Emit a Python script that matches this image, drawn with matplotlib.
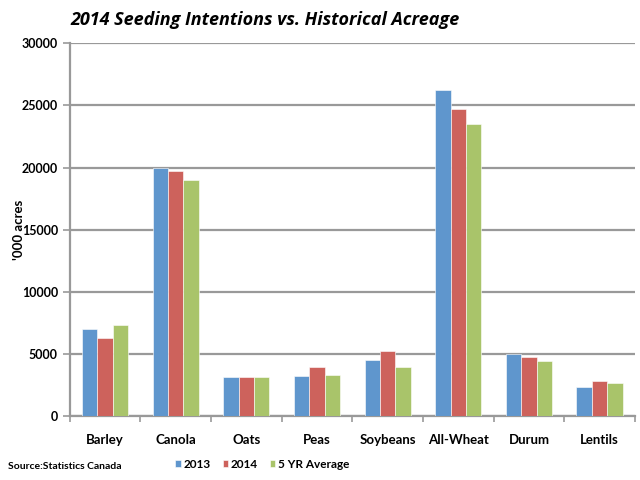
import matplotlib.pyplot as plt
import numpy as np

# datos ('000 acres)
cultivos = ["Barley", "Canola", "Oats", "Peas", "Soybeans", "All-Wheat", "Durum", "Lentils"]
v2013 = [7020, 20000, 3110, 3220, 4480, 26200, 4960, 2330]
v2014 = [6250, 19750, 3110, 3920, 5230, 24730, 4770, 2820]
v5yr = [7300, 18960, 3150, 3320, 3920, 23530, 4420, 2630]
series = ["2013", "2014", "5 YR Average"]
colores = ["#5F96CD", "#CD625C", "#A9C46A"]

plt.rcParams['font.family'] = ['Lato', 'DejaVu Sans']

fig = plt.figure(figsize=(6.4, 4.8), dpi=100)
ax = fig.add_axes([0.109, 0.133, 0.883, 0.777])

x = np.arange(len(cultivos))
ancho = 0.218
for i, (vals, nombre, c) in enumerate(zip([v2013, v2014, v5yr], series, colores)):
    ax.bar(x + (i - 1) * ancho, vals, width=ancho, color=c, label=nombre,
           edgecolor='white', linewidth=0.4, zorder=3)

ax.set_xlim(-0.5, len(cultivos) - 0.5)
ax.set_ylim(0, 30000)
ax.set_yticks(range(0, 30001, 5000))
ax.yaxis.grid(True, color='#999999', linewidth=1.6, zorder=0)

ax.set_xticks(x)
ax.set_xticklabels(cultivos, fontsize=9.5, fontweight='bold')
ax.set_xticks(np.arange(-0.5, len(cultivos)), minor=True)
ax.tick_params(axis='x', which='major', length=0, pad=13)
ax.tick_params(axis='x', which='minor', length=4, color='#999999', width=1.2)
ax.tick_params(axis='y', length=5, color='#999999', width=1.2, labelsize=9)
for lbl in ax.get_yticklabels():
    lbl.set_fontweight('bold')

for s in ['top', 'right']:
    ax.spines[s].set_visible(False)
for s in ['left', 'bottom']:
    ax.spines[s].set_color('#999999')
    ax.spines[s].set_linewidth(1.6)

ax.set_ylabel("'000 acres", fontsize=9.5, fontweight='bold')
ax.yaxis.set_label_coords(-0.08, 0.5)

# titulo en negrita cursiva
fig.text(0.414, 0.958, "2014 Seeding Intentions vs. Historical Acreage", ha='center', va='center',
         fontsize=13, fontweight='bold', fontstyle='italic', family=['Open Sans', 'DejaVu Sans'])

fig.legend(loc='center', bbox_to_anchor=(0.41, 0.033), ncol=3, frameon=False,
           prop={'weight': 'bold', 'size': 8.5}, handlelength=0.45, handleheight=0.45,
           handletextpad=0.25, columnspacing=1.0)

fig.text(0.012, 0.028, "Source:Statistics Canada", fontsize=7.5, fontweight='bold', va='center')

plt.savefig("out.png", dpi=100)
